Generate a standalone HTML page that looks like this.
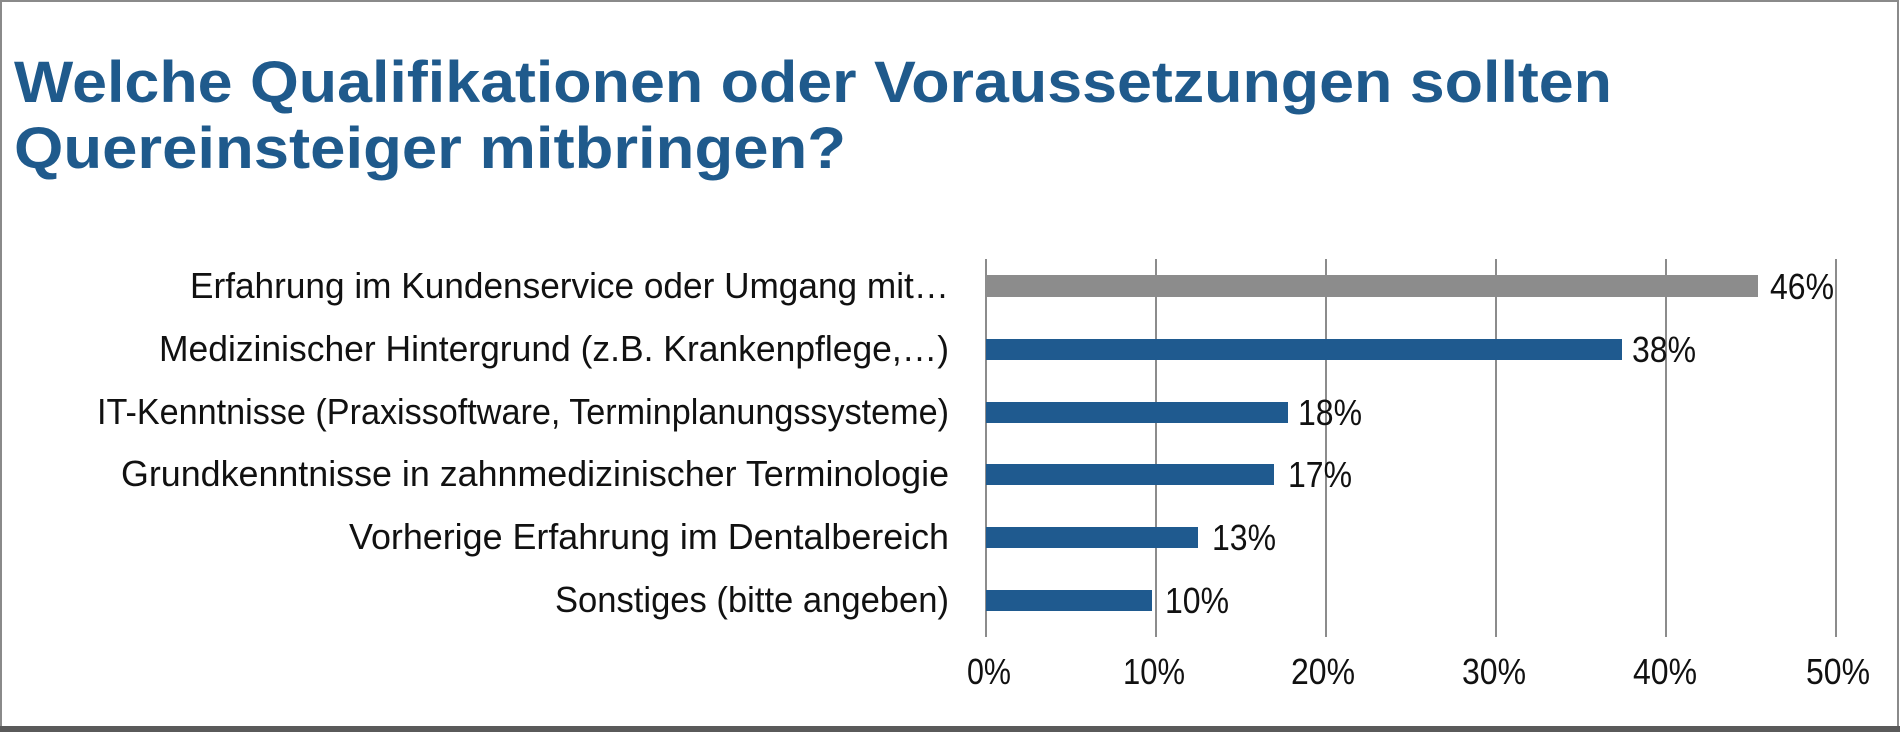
<!DOCTYPE html>
<html><head><meta charset="utf-8"><style>
html,body{margin:0;padding:0;background:#fff}
svg{display:block}
</style></head><body>
<svg width="1900" height="732" viewBox="0 0 1900 732" xmlns="http://www.w3.org/2000/svg">
<rect x="0" y="0" width="1900" height="732" fill="#fff"/>
<rect x="1" y="1" width="1897" height="727" fill="none" stroke="#8a8a8a" stroke-width="2"/>
<rect x="0" y="726" width="1900" height="6" fill="#5a5a5a"/>
<g font-family="Liberation Sans, sans-serif" font-weight="bold" fill="#1f5a8c" font-size="58">
<text x="14" y="102" textLength="1598" lengthAdjust="spacingAndGlyphs">Welche Qualifikationen oder Voraussetzungen sollten</text>
<text x="14" y="168" textLength="832" lengthAdjust="spacingAndGlyphs">Quereinsteiger mitbringen?</text>
</g>
<g stroke="#8c8c8c" stroke-width="2">
<line x1="986" y1="259" x2="986" y2="637"/>
<line x1="1156" y1="259" x2="1156" y2="637"/>
<line x1="1326" y1="259" x2="1326" y2="637"/>
<line x1="1496" y1="259" x2="1496" y2="637"/>
<line x1="1666" y1="259" x2="1666" y2="637"/>
<line x1="1836" y1="259" x2="1836" y2="637"/>
</g>
<rect x="986" y="275" width="772" height="22" fill="#8c8c8c"/>
<rect x="986" y="339" width="636" height="21" fill="#1f5a8f"/>
<rect x="986" y="402" width="302" height="21" fill="#1f5a8f"/>
<rect x="986" y="464" width="288" height="21" fill="#1f5a8f"/>
<rect x="986" y="527" width="212" height="21" fill="#1f5a8f"/>
<rect x="986" y="590" width="166" height="21" fill="#1f5a8f"/>
<g font-family="Liberation Sans, sans-serif" font-size="36" fill="#111" text-anchor="start">
<text x="190" y="298" textLength="759" lengthAdjust="spacingAndGlyphs">Erfahrung im Kundenservice oder Umgang mit…</text>
<text x="159" y="361" textLength="790" lengthAdjust="spacingAndGlyphs">Medizinischer Hintergrund (z.B. Krankenpflege,…)</text>
<text x="97" y="424" textLength="852" lengthAdjust="spacingAndGlyphs">IT-Kenntnisse (Praxissoftware, Terminplanungssysteme)</text>
<text x="121" y="486" textLength="828" lengthAdjust="spacingAndGlyphs">Grundkenntnisse in zahnmedizinischer Terminologie</text>
<text x="349" y="549" textLength="600" lengthAdjust="spacingAndGlyphs">Vorherige Erfahrung im Dentalbereich</text>
<text x="555" y="612" textLength="394" lengthAdjust="spacingAndGlyphs">Sonstiges (bitte angeben)</text>
<text x="1770" y="299" textLength="64" lengthAdjust="spacingAndGlyphs">46%</text>
<text x="1632" y="362" textLength="64" lengthAdjust="spacingAndGlyphs">38%</text>
<text x="1298" y="425" textLength="64" lengthAdjust="spacingAndGlyphs">18%</text>
<text x="1288" y="487" textLength="64" lengthAdjust="spacingAndGlyphs">17%</text>
<text x="1212" y="550" textLength="64" lengthAdjust="spacingAndGlyphs">13%</text>
<text x="1165" y="613" textLength="64" lengthAdjust="spacingAndGlyphs">10%</text>
</g>
<g font-family="Liberation Sans, sans-serif" font-size="36" fill="#111" text-anchor="middle">
<text x="989" y="684" textLength="44" lengthAdjust="spacingAndGlyphs">0%</text>
<text x="1154" y="684" textLength="62" lengthAdjust="spacingAndGlyphs">10%</text>
<text x="1323" y="684" textLength="64" lengthAdjust="spacingAndGlyphs">20%</text>
<text x="1494" y="684" textLength="64" lengthAdjust="spacingAndGlyphs">30%</text>
<text x="1665" y="684" textLength="64" lengthAdjust="spacingAndGlyphs">40%</text>
<text x="1838" y="684" textLength="64" lengthAdjust="spacingAndGlyphs">50%</text>
</g>
</svg>
</body></html>
